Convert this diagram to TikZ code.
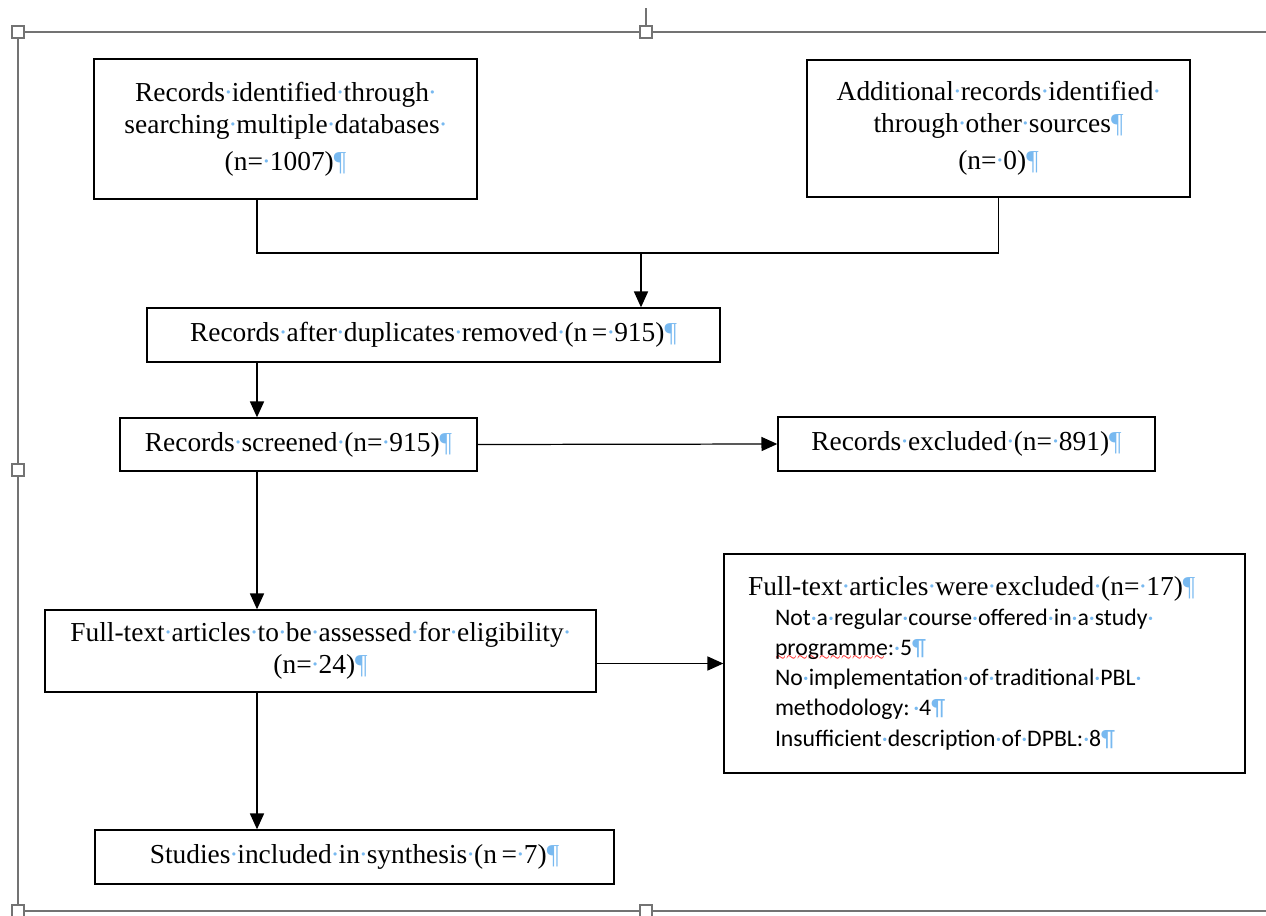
\documentclass[tikz,border=0pt]{standalone}
\usepackage{fontspec}
\setmainfont{Liberation Serif}
\newfontfamily\calfont{Carlito}
\usetikzlibrary{arrows.meta,positioning,calc}
\definecolor{markblue}{RGB}{120,185,240}
\newcommand{\sd}{\makebox[0.25em]{\textcolor{markblue}{·}}}
\newcommand{\pil}{\textcolor{markblue}{¶}}
\newcommand{\itm}{\calfont\fontsize{13.5}{17}\selectfont}
\newsavebox{\errbox}
\newcommand{\spellerr}[1]{\sbox{\errbox}{#1}\rlap{\raisebox{-3pt}{\textcolor{red}{\leaders\hbox{$\scriptscriptstyle\sim$}\hskip\wd\errbox}}}#1}

\begin{document}
\begin{tikzpicture}[>={Triangle[length=9pt,width=8pt]},font=\fontsize{15.6}{18}\selectfont,
  box/.style={draw,line width=0.8pt,align=center,inner sep=0pt},
  frame/.style={draw=black!55,line width=0.9pt},
  handle/.style={draw=black!55,fill=white,minimum size=0.24cm,inner sep=0pt,line width=0.6pt}]
\useasboundingbox (0,0) rectangle (25.32,-18.3);
% ---- text box frame of the screenshot ----
\draw[frame] (25.32,-0.64) -- (0.36,-0.64) -- (0.36,-18.22) -- (25.32,-18.22);
\draw[frame] (12.92,-0.16) -- (12.92,-0.64);
\foreach \x/\y [count=\i] in {0.36/-0.64,12.92/-0.64,0.36/-9.4,0.36/-18.22,12.92/-18.22}
  \node[handle] (h\i) at (\x,\y) {};
% ---- boxes ----
\node[box,minimum width=7.66cm,minimum height=2.8cm] (recdb) at (5.71,-2.58)
  {Records\sd identified\sd through\sd\\ searching\sd multiple\sd databases\sd\\[3pt] (n=\sd1007)\pil};
\node[box,minimum width=7.66cm,minimum height=2.74cm] (recoth) at (19.97,-2.57)
  {Additional\sd records\sd identified\sd\\ through\sd other\sd sources\pil\\[3pt] (n=\sd0)\pil};
\node[box,minimum width=11.46cm,minimum height=1.08cm] (dedup) at (8.67,-6.7)
  {Records\sd after\sd duplicates\sd removed\sd(n\,=\sd915)\pil};
\node[box,minimum width=7.14cm,minimum height=1.06cm] (screen) at (5.97,-8.89)
  {Records\sd screened\sd(n=\sd915)\pil};
\node[box,minimum width=7.54cm,minimum height=1.08cm] (excl) at (19.33,-8.88)
  {Records\sd excluded\sd(n=\sd891)\pil};
\node[box,minimum width=11.02cm,minimum height=1.64cm] (elig) at (6.41,-13.02)
  {Full-text\sd articles\sd to\sd be\sd assessed\sd for\sd eligibility\sd\\ (n=\sd24)\pil};
\node[box,align=left,text width=9.46cm,inner xsep=0.48cm,minimum height=4.38cm] (ftexcl) at (19.69,-13.27)
  {Full-text\sd articles\sd were\sd excluded\sd(n=\sd17)\pil\\
   {\itm\hspace*{0.54cm}Not\sd a\sd regular\sd course\sd offered\sd in\sd a\sd study\sd\\
   \hspace*{0.54cm}\spellerr{programme}:\sd5\pil\\
   \hspace*{0.54cm}No\sd implementation\sd of\sd traditional\sd PBL\sd\\
   \hspace*{0.54cm}methodology:\hspace{0.15em}\sd4\pil\\
   \hspace*{0.54cm}Insufficient\sd description\sd of\sd DPBL:\sd8\pil}};
\node[box,minimum width=10.38cm,minimum height=1.08cm] (synth) at (7.09,-17.14)
  {Studies\sd included\sd in\sd synthesis\sd(n\,=\sd7)\pil};
% ---- connectors ----
\coordinate (col) at (5.14,-5.06);
\coordinate (merge) at (12.82,-5.06);
\begin{scope}[line width=0.7pt]
  \draw (col |- recdb.south) -- (col) -- (recoth.south |- col) -- (recoth.south);
  \draw[->] (merge) -- (merge |- dedup.north);
  \draw[->] (col |- dedup.south) -- (col |- screen.north);
  \draw[->] (screen.east) -- (excl.west);
  \draw[->] (col |- screen.south) -- (col |- elig.north);
  \draw[->] (elig.east |- ftexcl.west) -- (ftexcl.west);
  \draw[->] (col |- elig.south) -- (col |- synth.north);
\end{scope}
\end{tikzpicture}
\end{document}
